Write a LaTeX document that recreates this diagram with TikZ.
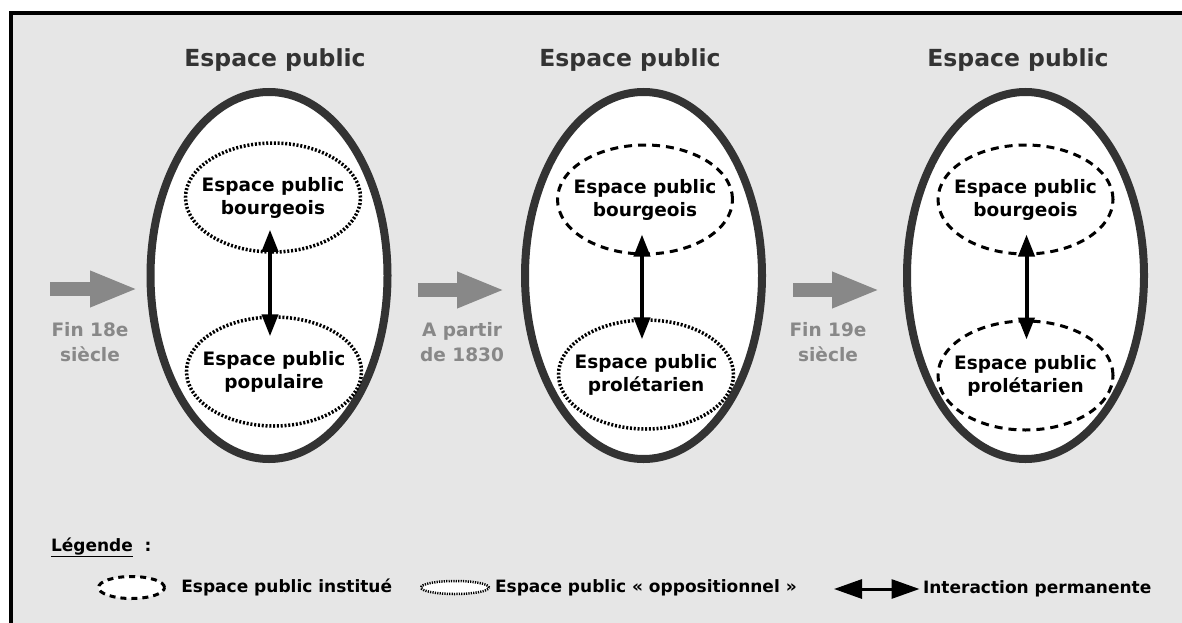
\documentclass[tikz,border=0pt]{standalone}
\usepackage{fontspec}
\setmainfont{DejaVu Sans}
\usetikzlibrary{shapes.geometric, positioning, arrows.meta}

\definecolor{fondgris}{HTML}{E6E6E6}
\definecolor{bordsombre}{HTML}{333333}
\definecolor{grisclair}{HTML}{888888}

\begin{document}
\begin{tikzpicture}[x=1pt,y=-1pt]
\tikzstyle{every node}=[font=\bfseries\fontsize{18.5}{23}\selectfont, align=center]
\tikzstyle{espace}=[ellipse, draw=bordsombre, line width=8pt, fill=white, minimum width=237pt, minimum height=367pt]
\tikzstyle{institue}=[ellipse, draw, line width=3pt, dash pattern=on 8pt off 6pt, minimum width=175pt, minimum height=109pt, inner sep=0pt]
\tikzstyle{opposition}=[institue, line width=3.5pt, dash pattern=on 2pt off 1.8pt]
\tikzstyle{interaction}=[{Triangle[length=22pt,width=16pt]}-{Triangle[length=22pt,width=16pt]}, line width=4pt]
\tikzstyle{epoque}=[-{Triangle[length=48pt,width=33pt]}, line width=14pt, draw=grisclair]
\tikzstyle{date}=[text=grisclair, font=\bfseries\fontsize{18.5}{25}\selectfont]
\tikzstyle{titre}=[text=bordsombre, font=\bfseries\fontsize{23.5}{28}\selectfont, anchor=base]
\tikzstyle{legende}=[font=\bfseries\fontsize{17}{20}\selectfont]

\useasboundingbox (0,0) rectangle (1182,623);
\fill[fondgris] (11,13) rectangle (1182,623);
\draw[line width=3.5pt] (11,623) -- (11,13) -- (1182,13);

% les trois epoques
\node[espace] (E1) at (269,275.5) {};
\node[espace] (E2) at (643.5,275.5) {};
\node[espace] (E3) at (1025.5,275.5) {};

\node[titre] (T1) at (275,67) {Espace public};
\node[titre] (T2) at (630,67) {Espace public};
\node[titre] (T3) at (1018,67) {Espace public};

\node[opposition, label={center:Espace public\\bourgeois}] (B1) at ([xshift=4pt,yshift=78pt]E1.center) {};
\node[opposition, label={center:Espace public\\populaire}] (P1) at ([xshift=5pt,yshift=-96pt]E1.center) {};
\node[institue, label={center:Espace public\\bourgeois}] (B2) at ([xshift=1.5pt,yshift=76pt]E2.center) {};
\node[opposition, label={center:Espace public\\prolétarien}] (P2) at ([xshift=2.5pt,yshift=-99pt]E2.center) {};
\node[institue, label={center:Espace public\\bourgeois}] (B3) at ([yshift=76pt]E3.center) {};
\node[institue, label={center:Espace public\\prolétarien}] (P3) at ([yshift=-100pt]E3.center) {};

\draw[interaction] ([xshift=-3pt,yshift=24pt]B1.south) -- ([xshift=-4pt,yshift=-21pt]P1.north);
\draw[interaction] ([xshift=-3pt,yshift=21pt]B2.south) -- ([xshift=-4pt,yshift=-21pt]P2.north);
\draw[interaction] ([xshift=1pt,yshift=21pt]B3.south) -- ([xshift=1pt,yshift=-20pt]P3.north);

% dates
\coordinate (a1) at (50,289);
\coordinate (b1) at (138,289);
\coordinate (a2) at (418,290);
\coordinate (b2) at (505,290);
\coordinate (a3) at (793,290);
\coordinate (b3) at (880,290);
\draw[epoque] (a1) -- (b1);
\draw[epoque] (a2) -- (b2);
\draw[epoque] (a3) -- (b3);
\node[date] (D1) at (90,342) {Fin 18e\\siècle};
\node[date] (D2) at (462,342) {A partir\\de 1830};
\node[date] (D3) at (828,342) {Fin 19e\\siècle};

% legende
\node[legende, anchor=base west] (L) at (47.5,551) {\underline{Légende}\ \ :};
\node[institue, minimum width=66pt, minimum height=22pt, fill=white, dash pattern=on 6pt off 5pt] (LI) at (131.5,587.5) {};
\node[legende, right=11.8pt of LI] (LIt) {Espace public institué};
\node[opposition, minimum width=68pt, minimum height=13pt, fill=white, dash pattern=on 1.2pt off 1.2pt, line width=2.5pt] (LO) at (455,587.5) {};
\node[legende, right=1.3pt of LO] (LOt) {Espace public «~oppositionnel~»};
\node[legende, anchor=west] (LA) at (919.5,589) {Interaction permanente};
\coordinate (la) at (834,589);
\draw[{Triangle[length=28pt,width=19pt]}-{Triangle[length=28pt,width=19pt]}, line width=3pt] (la) -- (LA.west);
\end{tikzpicture}
\end{document}
